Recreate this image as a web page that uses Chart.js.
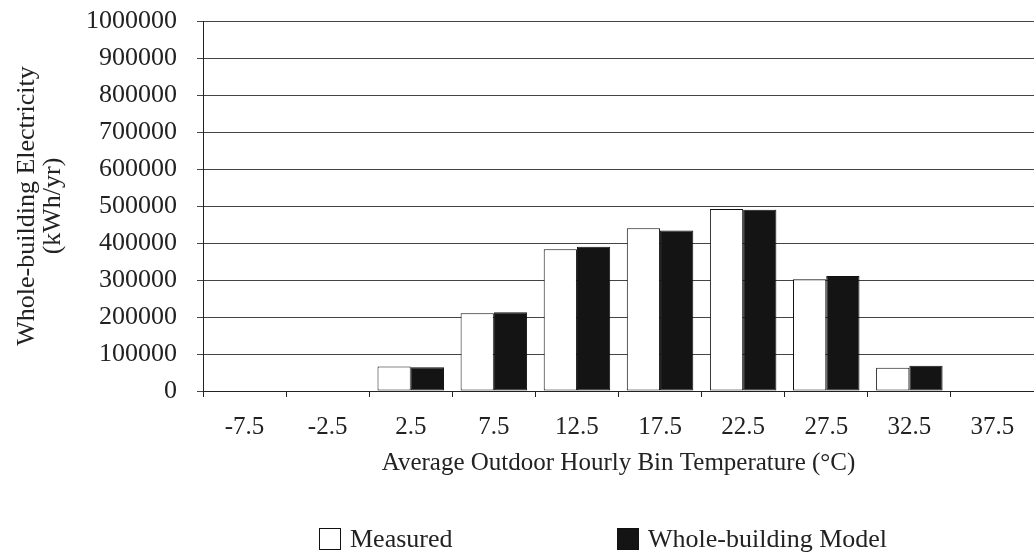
<!DOCTYPE html>
<html>
<head>
<meta charset="utf-8">
<script src="https://cdn.jsdelivr.net/npm/chart.js@4"></script>
<style>
  html, body { margin: 0; padding: 0; background: #fff; }
  #wrap { position: relative; width: 1034px; height: 559px; }
  #legend { position: absolute; left: 0; top: 527px; width: 1034px; height: 24px;
    font-family: 'Liberation Serif', 'Times New Roman', serif; font-size: 26px; color: #222; }
  .item { position: absolute; top: 0; height: 24px; display: flex; align-items: center; white-space: nowrap; }
  .box { width: 22px; height: 22px; box-sizing: border-box; margin-right: 9px; }
</style>
</head>
<body>
<div id="wrap">
  <canvas id="bins-chart"></canvas>
  <div id="legend"></div>
</div>
<script>
(function () {
  'use strict';

  // бины температуры, °C
  var binLabels = ['-7.5', '-2.5', '2.5', '7.5', '12.5', '17.5', '22.5', '27.5', '32.5', '37.5'];
  var measured = [0, 0, 66000, 210000, 383000, 440000, 492000, 302000, 63000, 0];
  var model = [0, 0, 64000, 213000, 390000, 434000, 490000, 311000, 68000, 0];
  var yMax = 1000000;
  var yStep = 100000;

  var serif = "'Liberation Serif', 'Times New Roman', serif";
  var ink = '#222';

  var chart = new Chart(document.getElementById('bins-chart'), {
    type: 'bar',
    data: {
      labels: binLabels,
      datasets: [
        {
          label: 'Measured',
          data: measured,
          backgroundColor: '#ffffff',
          borderColor: '#111',
          borderWidth: 1,
          borderSkipped: false,
        },
        {
          label: 'Whole-building Model',
          data: model,
          backgroundColor: '#141414',
          borderColor: '#111',
          borderWidth: 1,
          borderSkipped: false,
        },
      ],
    },
    options: {
      responsive: true,
      maintainAspectRatio: false,
      animation: false,
      datasets: { bar: { categoryPercentage: 0.8, barPercentage: 1.0 } },
      layout: { padding: { left: 0, right: 0, top: 0, bottom: 90 } },
      plugins: {
        legend: { display: false },
        tooltip: { enabled: false },
      },
      scales: {
        x: {
          grid: { offset: true, drawOnChartArea: false, drawTicks: true, tickLength: 6, color: ink },
          border: { color: ink, width: 1 },
          ticks: { color: ink, padding: 15, font: { family: serif, size: 25 } },
          title: {
            display: true,
            text: 'Average Outdoor Hourly Bin Temperature (°C)',
            color: ink,
            // маленький lineHeight, чтобы подпись встала ближе к меткам
            font: { family: serif, size: 25, lineHeight: 0.48 },
            padding: { top: 0, bottom: 0 },
          },
        },
        y: {
          min: 0,
          max: yMax,
          grid: { color: '#444', tickLength: 6 },
          border: { color: ink, width: 1 },
          ticks: {
            stepSize: yStep,
            color: ink,
            padding: 20,
            font: { family: serif, size: 26, lineHeight: 0.077 },
            callback: function (v) { return String(v); },
          },
          title: {
            display: true,
            text: ['Whole-building Electricity', '(kWh/yr)'],
            color: ink,
            font: { family: serif, size: 26, lineHeight: 1.0 },
            padding: { top: 14, bottom: 0 },
          },
        },
      },
    },
  });

  // легенда в html, позиции как на исходнике
  var legendLeft = [319, 617];
  var legendEl = document.getElementById('legend');
  chart.data.datasets.forEach(function (ds, i) {
    var item = document.createElement('div');
    item.className = 'item';
    item.style.left = legendLeft[i] + 'px';
    var box = document.createElement('span');
    box.className = 'box';
    box.style.background = ds.backgroundColor;
    box.style.border = '1px solid ' + ds.borderColor;
    item.appendChild(box);
    item.appendChild(document.createTextNode(ds.label));
    legendEl.appendChild(item);
  });
})();
</script>
</body>
</html>
